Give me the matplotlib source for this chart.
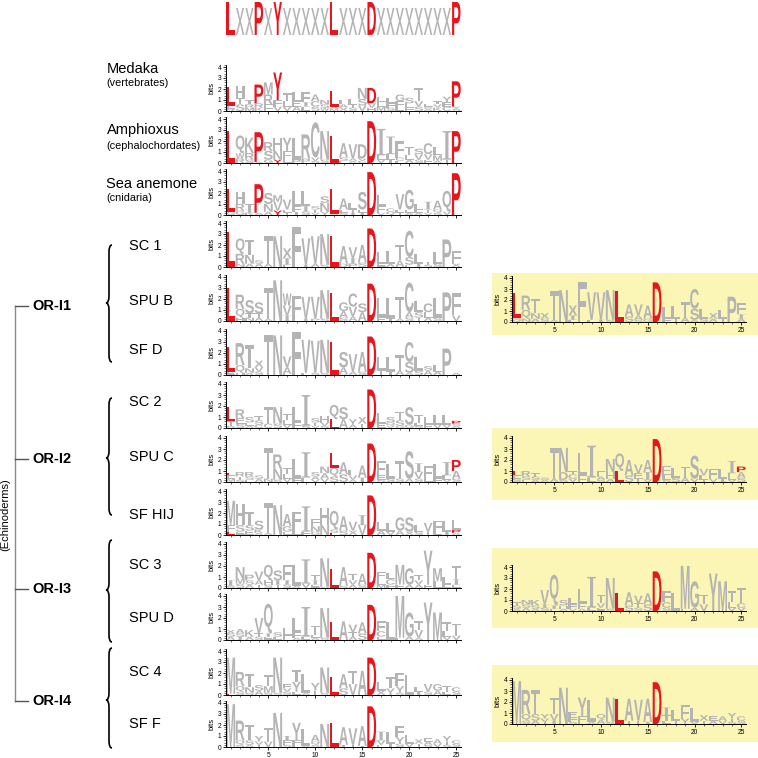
import matplotlib
matplotlib.use('Agg')
import matplotlib.pyplot as plt
from matplotlib.textpath import TextPath
from matplotlib.font_manager import FontProperties
from matplotlib.patches import PathPatch, Rectangle
from matplotlib.transforms import Affine2D
from matplotlib.path import Path
from matplotlib.ticker import MultipleLocator, FixedLocator

plt.rcParams['font.family'] = ['Liberation Sans', 'DejaVu Sans']

# ---------------- data ----------------
CONS = "LxxPxYxxxxxLxxxDxxxxxxxxP"
cons_h = [1.0, .82, .82, 1.0, .82, 1.0, .82, .82, .82, .82, .82, 1.0, .82, .82, .82, 1.0,
          .82, .82, .82, .82, .82, .82, .82, .82, 1.0]

medaka_letters = ["LHTPMYTLFANLLLNDLLGSTLTYP", "ETRRRFLEICSAATSVLFFLVSVEY", "RSMKFVVALSWMXSVHMSLFSAKCS"]
medaka_heights = [[1.7, 1.1, 0.4, 1.7, 1.1, 2.5, 0.7, 0.8, 0.9, 0.6, 0.4, 1.4, 0.4, 0.5, 1.0, 1.4, 0.5, 0.5, 0.6, 0.5, 1.2, 0.2, 0.3, 0.5, 2.3],
                  [0.3, 0.6, 0.3, 0.4, 0.9, 0.6, 0.5, 0.5, 0.4, 0.5, 0.3, 0.2, 0.3, 0.3, 0.6, 0.4, 0.4, 0.4, 0.5, 0.4, 0.5, 0.2, 0.3, 0.4, 0.2],
                  [0.2, 0.6, 0.3, 0.3, 0.6, 0.4, 0.4, 0.4, 0.4, 0.4, 0.3, 0.2, 0.3, 0.3, 0.5, 0.3, 0.4, 0.3, 0.4, 0.3, 0.4, 0.2, 0.3, 0.4, 0.2]]

amphioxus_letters = ["LQKPRHYLRCNLAVDDIIFTSCLIP", ".WR.SNFPPVS.SAV.LLCLVVMT.", ".RSAGYL..S..EXC.VTLASFA.."]
amphioxus_heights = [[2.9, 1.6, 1.4, 2.7, 0.8, 1.2, 1.2, 2.0, 2.2, 3.2, 2.6, 2.5, 1.3, 1.3, 1.3, 3.8, 2.4, 1.6, 1.5, 0.8, 0.5, 1.0, 0.8, 2.6, 2.9],
                     [0, 0.5, 0.6, 0, 0.8, 0.8, 0.8, 0.3, 0.4, 0.3, 0.3, 0, 0.3, 0.2, 0.2, 0, 0.4, 0.5, 0.3, 0.4, 0.5, 0.5, 0.5, 0.3, 0],
                     [0, 0.4, 0.3, 0.1, 0.3, 0.3, 0.3, 0, 0, 0.2, 0, 0, 0.2, 0.2, 0.2, 0, 0.3, 0.3, 0.2, 0.3, 0.3, 0.3, 0.2, 0, 0]]

anemone_letters = ["LHTPSMVLLSSLALSDLCVGLIAQP", "GRI.NVLFITN.LTL.FQLLLTQV.", ".GKAAYTTSVYSSII.V.TAAVS.."]
anemone_heights = [[2.1, 1.1, 0.5, 2.6, 1.0, 0.6, 0.9, 1.4, 1.4, 0.3, 0.6, 2.3, 1.0, 0.6, 1.6, 3.9, 1.0, 0.3, 1.4, 1.8, 0.5, 0.7, 0.8, 1.9, 3.8],
                   [0.3, 0.6, 0.3, 0, 0.7, 0.8, 0.3, 0.5, 0.5, 0.3, 0.8, 0, 0.3, 0.3, 0.3, 0, 0.6, 0.3, 0.3, 0.3, 0.3, 0.3, 0.3, 0.3, 0],
                   [0, 0.4, 0.2, 0.2, 0.3, 0.4, 0.2, 0.3, 0.3, 0.2, 0.3, 0.1, 0.2, 0.2, 0.2, 0, 0.2, 0, 0.2, 0.2, 0.2, 0.2, 0.2, 0, 0]]

sc1_letters = ["LQTSTNXFVVNLAVADLLTCLTLPF", ".RNAA.I.IAS.DIS.EAASISS.X", ".NA...L......P.....L....."]
sc1_heights = [[3.2, 1.4, 1.4, 0.3, 2.5, 2.8, 0.9, 3.6, 2.4, 2.5, 2.8, 2.8, 1.6, 1.0, 1.6, 3.5, 1.1, 1.2, 1.4, 2.4, 0.9, 0.3, 1.1, 2.5, 1.2],
               [0, 0.9, 0.8, 0.3, 0.3, 0, 0.6, 0, 0.2, 0.3, 0.2, 0, 0.3, 0.5, 0.4, 0, 0.3, 0.3, 0.6, 0.7, 0.3, 0.2, 0.3, 0, 0.3],
               [0, 0.3, 0.3, 0, 0, 0, 0.2, 0, 0, 0, 0, 0, 0, 0.3, 0, 0, 0, 0, 0, 0.2, 0, 0, 0, 0, 0]]

spub_letters = ["LRSSTNWFVVNLGCSDLLTCLCLPF", ".QTT..VLIPS.AVA.FTAASLS.V", ".HNAA.I.....SA.....STA..."]
spub_heights = [[3.0, 1.3, 1.2, 1.0, 2.8, 3.7, 1.1, 2.1, 2.0, 2.0, 2.6, 2.5, 0.8, 1.2, 0.8, 3.4, 1.8, 1.9, 2.0, 2.7, 1.0, 0.8, 1.8, 2.6, 2.0],
                [0, 0.8, 0.4, 0.4, 0, 0, 0.9, 0.2, 0.2, 0.2, 0.2, 0, 0.6, 0.9, 0.8, 0, 0.3, 0.2, 0.2, 0.5, 0.5, 0.5, 0.3, 0, 0.5],
                [0, 0.3, 0.3, 0.3, 0.2, 0, 0.5, 0, 0, 0, 0, 0, 0.3, 0.4, 0, 0, 0, 0, 0, 0.3, 0.3, 0.3, 0, 0, 0]]

sfd_letters = ["LRTXTNVFVVNLSVADLLTCLSLPA", "EQNV..A.LSS.AAS.TTASSAA..", ".HAS..L.....G......A....."]
sfd_heights = [[2.2, 2.0, 2.1, 0.6, 3.6, 3.6, 1.0, 3.9, 3.0, 2.9, 3.0, 3.0, 1.4, 1.6, 1.8, 3.5, 1.2, 1.3, 1.4, 1.8, 1.2, 0.4, 0.6, 2.4, 0.2],
               [0.3, 0.7, 0.4, 0.4, 0, 0, 0.6, 0, 0.2, 0.2, 0.2, 0, 0.6, 0.3, 0.3, 0, 0.4, 0.3, 0.4, 1.0, 0.4, 0.4, 0.3, 0, 0],
               [0, 0.2, 0.2, 0.3, 0, 0, 0.1, 0, 0, 0, 0, 0, 0.1, 0, 0, 0, 0, 0, 0, 0.2, 0, 0, 0, 0, 0]]

sc2_letters = ["LRSTTNTLISHQSYXDLSTSTLLLP", "TEESCSLF.TVLAAT.EQSGLFVVS", "SSAC..V.SVS......VG.S...A"]
sc2_heights = [[1.3, 0.8, 0.5, 0.4, 1.5, 1.5, 0.6, 1.4, 2.8, 0.4, 0.6, 1.3, 1.1, 0.5, 0.6, 3.5, 1.0, 0.5, 0.8, 1.6, 0.7, 0.7, 0.9, 0.9, 0.25],
               [0.4, 0.5, 0.3, 0.4, 0.4, 0.4, 0.4, 0.5, 0, 0.3, 0.3, 0.8, 0.8, 0.3, 0.4, 0, 0.4, 0.3, 0.5, 0.3, 0.3, 0.3, 0.3, 0.3, 0.2],
               [0.2, 0.4, 0.2, 0.3, 0, 0, 0.3, 0, 0.2, 0.2, 0.2, 0, 0, 0, 0, 0, 0, 0.2, 0.2, 0, 0.2, 0, 0, 0, 0.2]]

spuc_letters = ["LRRSTRTLISNLALADFLTSIFLIP", "ETSANNLFFAAQSVI.ESSAVLFLA", "MSE..SV..VVS.A..S...S..VS"]
spuc_heights = [[0.2, 0.4, 0.4, 0.3, 2.8, 1.3, 0.6, 1.8, 2.3, 0.4, 0.6, 1.3, 1.1, 0.5, 1.1, 3.5, 1.3, 1.3, 1.6, 2.5, 0.8, 1.2, 1.3, 1.2, 1.0],
                [0.3, 0.3, 0.3, 0.3, 0.3, 1.0, 0.4, 0.3, 0.4, 0.3, 0.5, 0.8, 0.7, 0.4, 0.4, 0, 0.4, 0.3, 0.3, 0.3, 0.6, 0.3, 0.3, 0.4, 0.7],
                [0.3, 0.2, 0.2, 0, 0, 0.2, 0.3, 0, 0, 0.2, 0.3, 0.5, 0, 0.2, 0, 0, 0.2, 0, 0, 0, 0.3, 0, 0, 0.2, 0.3]]

sfhij_letters = ["MHTSTNAFIFHQAVIDLLGSLVFLL", "FSSKA.GLFNNSSXV.AVAXSTLIP", "LEEA..L..G.L............A"]
sfhij_heights = [[2.2, 1.9, 1.2, 0.8, 2.7, 2.7, 1.1, 1.4, 2.3, 0.7, 1.6, 1.7, 1.3, 0.8, 0.9, 3.6, 0.8, 0.8, 1.2, 1.3, 0.6, 0.8, 1.0, 1.0, 0.9],
                 [0.6, 0.6, 0.5, 0.3, 0.2, 0, 0.5, 0.7, 0.3, 0.5, 0.9, 0.3, 0.4, 0.4, 0.9, 0, 0.4, 0.3, 0.4, 0.3, 0.3, 0.3, 0.3, 0.3, 0.25],
                 [0.3, 0.3, 0.4, 0.2, 0, 0, 0.3, 0, 0, 0.3, 0, 0.2, 0, 0, 0, 0, 0, 0, 0, 0, 0, 0, 0, 0, 0.2]]

sc3_letters = ["INPVQSFLITNLATADFLMGTYMLT", "SMSAHII.VIS.SVS.LCFAVFLLI", ".SATSTSA.E...A..MF..A...L"]
sc3_heights = [[0.5, 1.0, 0.5, 0.8, 1.4, 0.9, 1.4, 1.9, 2.2, 0.5, 2.6, 1.7, 1.7, 0.6, 1.0, 3.2, 0.7, 0.6, 1.8, 1.5, 0.5, 3.1, 1.2, 0.7, 1.2],
               [0.2, 0.5, 0.4, 0.4, 0.4, 0.4, 0.4, 0, 0.4, 0.4, 0.1, 0, 0.2, 0.4, 0.3, 0, 0.5, 0.5, 0.3, 0.3, 0.4, 0.3, 0.6, 0.3, 0.5],
               [0, 0.4, 0.3, 0.3, 0.3, 0.3, 0.3, 0.2, 0, 0.3, 0, 0, 0, 0.3, 0, 0, 0.3, 0.3, 0, 0, 0.3, 0, 0, 0, 0.3]]

spud_letters = ["XAKVQSLLITNLAVADFLMGTYMTT", "SSATILFFLLS..TS.C.FAV..LV", "AI.SE..A.A...A..L...A..V."]
spud_heights = [[0.3, 0.4, 0.6, 1.4, 2.7, 0.4, 0.7, 1.3, 2.7, 0.8, 2.7, 1.6, 1.7, 0.7, 1.0, 3.2, 0.9, 1.6, 3.8, 2.2, 0.8, 3.4, 2.5, 0.8, 1.1],
                [0.3, 0.3, 0.3, 0.3, 0.3, 0.3, 0.4, 0.5, 0.3, 0.3, 0.2, 0, 0, 0.4, 0.6, 0, 0.5, 0, 0.2, 0.3, 0.7, 0, 0, 0.5, 0.4],
                [0.3, 0.3, 0, 0.3, 0.3, 0, 0, 0.2, 0, 0.2, 0, 0, 0, 0.3, 0, 0, 0.3, 0, 0, 0, 0.2, 0, 0, 0.3, 0]]

sc4_letters = ["MRTSTNETLYNLATADLTFLLVGTC", ".QNAMSVYATS.SV..XYY.ISALS", "LSS.S.SL..........S......"]
sc4_heights = [[3.3, 1.3, 1.2, 0.5, 1.0, 3.2, 0.4, 1.1, 1.7, 0.7, 2.3, 1.6, 1.3, 1.2, 2.2, 3.4, 0.8, 1.0, 1.2, 1.8, 0.4, 0.7, 0.6, 0.5, 0.4],
               [0, 0.5, 0.5, 0.4, 0.6, 0.2, 0.3, 0.9, 0.2, 0.4, 0.2, 0, 0.6, 1.0, 0, 0, 0.4, 0.6, 0.6, 0, 0.3, 0.3, 0.4, 0.3, 0.3],
               [0.1, 0.3, 0.2, 0, 0.2, 0, 0.3, 0.3, 0, 0, 0, 0, 0, 0, 0, 0, 0, 0, 0.2, 0, 0, 0, 0, 0, 0]]

sff_letters = ["MRTYTNIYLANLAVADILFLXEAYC", ".QSVV.FFAQ..TTI.VTYVTAVTS", ".SAT..SL.S......L.S..S.S."]
sff_heights = [[3.9, 1.8, 1.4, 0.5, 1.2, 3.1, 0.4, 1.6, 1.5, 0.6, 2.1, 2.2, 1.6, 1.5, 1.8, 3.7, 0.8, 1.1, 1.0, 0.8, 0.4, 0.3, 0.4, 0.5, 0.3],
               [0, 0.4, 0.4, 0.3, 0.5, 0, 0.4, 0.4, 0.1, 0.3, 0, 0, 0.2, 0.2, 0.1, 0, 0.4, 0.3, 0.6, 0.3, 0.3, 0.3, 0.3, 0.3, 0.3],
               [0, 0.2, 0.2, 0.2, 0, 0, 0.2, 0.2, 0, 0.2, 0, 0, 0, 0, 0, 0, 0.2, 0, 0.3, 0, 0, 0.2, 0, 0.2, 0]]

yel1_letters = ["LRTXTNXFVVNLAVADLLTCLXLPF", "SQNSA.I.LIS.SAG.FTASSAT.I", "QNA...L......S.....A....A"]
yel1_heights = [[2.2, 1.3, 1.3, 0.5, 2.6, 2.9, 0.9, 3.6, 2.5, 2.5, 2.7, 2.8, 1.1, 1.0, 1.2, 3.6, 1.1, 1.2, 1.4, 1.8, 0.9, 0.5, 0.8, 2.3, 1.0],
                [0.2, 0.8, 0.5, 0.3, 0.2, 0, 0.4, 0, 0.2, 0.2, 0.2, 0, 0.5, 0.4, 0.3, 0, 0.3, 0.3, 0.4, 1.0, 0.3, 0.3, 0.3, 0, 0.4],
                [0.2, 0.3, 0.3, 0, 0, 0, 0.2, 0, 0, 0, 0, 0, 0, 0.2, 0, 0, 0, 0, 0, 0.2, 0, 0, 0, 0, 0.3]]

yel2_letters = ["LRTSTNTLIFNQAVADELTSVFLIP", "ESSAADCFLAHLSEI.LSAVLVILA", "SEA..SV..SA..TV.S...T..VS"]
yel2_heights = [[0.4, 0.5, 0.3, 0.2, 2.8, 2.2, 0.3, 2.0, 2.9, 0.5, 1.2, 1.6, 1.4, 0.8, 1.1, 3.9, 0.9, 0.9, 1.0, 2.1, 0.6, 0.9, 0.9, 1.1, 0.5],
                [0.3, 0.3, 0.3, 0.2, 0.3, 0.7, 0.4, 0.6, 0.4, 0.3, 0.6, 1.0, 0.6, 0.5, 0.7, 0, 0.4, 0.4, 0.4, 0.3, 0.4, 0.3, 0.3, 0.6, 0.5],
                [0.3, 0.2, 0.2, 0, 0, 0.2, 0.3, 0, 0, 0.2, 0.3, 0, 0, 0.3, 0.2, 0, 0.2, 0, 0, 0, 0.2, 0, 0, 0.2, 0.4]]

yel3_letters = ["TNKVQSLLITNLAVADFLMGTYMTT", "SSSIIHFFLVS.STS.C.FAV..LC", "AAASEAVA.E...S..S......VV"]
yel3_heights = [[0.3, 0.4, 0.5, 1.3, 2.8, 0.5, 0.6, 1.3, 2.8, 0.8, 2.8, 1.6, 1.2, 0.7, 1.0, 3.6, 1.0, 1.6, 3.9, 2.4, 0.9, 3.4, 2.7, 1.0, 1.4],
                [0.3, 0.3, 0.3, 0.3, 0.3, 0.3, 0.4, 0.5, 0.3, 0.4, 0.2, 0, 0.5, 0.4, 0.6, 0, 0.5, 0, 0.2, 0.3, 0.6, 0, 0, 0.5, 0.4],
                [0.2, 0.3, 0.2, 0.3, 0.2, 0.2, 0.2, 0.2, 0, 0.3, 0, 0, 0, 0.3, 0, 0, 0.3, 0, 0, 0, 0, 0, 0, 0.3, 0.3]]

yel4_letters = ["MRTYTNEYLQNLAVADILFLXEAYC", ".QSVV.FFAAS.TTI.TTYVTAVTS", ".SATI.SL........L......S."]
yel4_heights = [[3.9, 2.2, 2.2, 0.4, 1.5, 3.3, 0.5, 1.7, 2.0, 0.5, 2.2, 2.3, 2.0, 1.9, 2.1, 3.8, 0.7, 1.0, 1.2, 1.3, 0.5, 0.4, 0.4, 0.5, 0.4],
                [0, 0.6, 0.6, 0.3, 0.6, 0, 0.4, 0.5, 0.2, 0.4, 0.2, 0, 0.3, 0.3, 0.2, 0, 0.5, 0.3, 0.5, 0.2, 0.3, 0.3, 0.3, 0.3, 0.3],
                [0, 0.3, 0.3, 0.2, 0.3, 0, 0.2, 0.2, 0, 0, 0, 0, 0, 0, 0, 0, 0.3, 0, 0, 0, 0, 0, 0, 0.2, 0]]

# ---------------- styling / layout ----------------
W = H = 758
RED = '#e8161c'
GRAY = '#b4b4b4'
YELLOW = '#fbf5b6'
PXBIT = 11.0
YMAX = 4.2

fig = plt.figure(figsize=(7.58, 7.58), dpi=100)

FP_SANS = FontProperties(family='Liberation Sans', weight='bold')
FP_SANS_REG = FontProperties(family='Liberation Sans', weight='normal')
FP_SERIF = FontProperties(family='Liberation Serif', weight='normal')
_glyphs = {}


def glyph(ch):
    if ch not in _glyphs:
        if ch == 'I':
            fp = FP_SERIF
        elif ch == 'x':
            fp = FP_SANS_REG
        else:
            fp = FP_SANS
        tp = TextPath((0, 0), ch, size=1, prop=fp)
        _glyphs[ch] = (tp, tp.get_extents())
    return _glyphs[ch]


def draw_letter(ax, ch, xc, y0, h, color, w=0.94):
    tp, bb = glyph(ch)
    tr = (Affine2D().translate(-bb.x0, -bb.y0)
          .scale(w / bb.width, h / bb.height)
          .translate(xc - w / 2, y0))
    ax.add_patch(PathPatch(tr.transform_path(tp), fc=color, ec='none', lw=0))


def fbox(x0, ytop, x1, ybot):
    return [x0 / W, 1 - ybot / H, (x1 - x0) / W, (ybot - ytop) / H]


def logo_axes(xl, xr, base, xlabels=False):
    ax = fig.add_axes(fbox(xl, base - YMAX * PXBIT, xr, base))
    ax.set_xlim(0.5, 25.5)
    ax.set_ylim(0, YMAX)
    ax.patch.set_alpha(0)
    for s in ('top', 'right'):
        ax.spines[s].set_visible(False)
    for s in ('left', 'bottom'):
        ax.spines[s].set_linewidth(0.7)
    ax.yaxis.set_major_locator(FixedLocator([0, 1, 2, 3, 4]))
    ax.yaxis.set_minor_locator(MultipleLocator(0.2))
    ax.xaxis.set_major_locator(MultipleLocator(5))
    ax.xaxis.set_minor_locator(MultipleLocator(1))
    ax.tick_params(which='major', length=2.5, width=0.6, labelsize=4.8, pad=1)
    ax.tick_params(which='minor', length=1.3, width=0.4)
    if not xlabels:
        ax.tick_params(axis='x', labelbottom=False)
    ax.set_ylabel('bits', fontsize=5.5, labelpad=1)
    return ax


def draw_logo(ax, letters, heights):
    top, mid, low = letters
    ht, hm, hl = heights
    for i in range(25):
        y = 0.0
        for ch, h in ((low[i], hl[i]), (mid[i], hm[i]), (top[i], ht[i])):
            if ch != '.' and h > 0:
                color = RED if ch == CONS[i] else GRAY
                draw_letter(ax, ch, i + 1, y, h, color)
                y += h


# background overlay axes in pixel coordinates
ax0 = fig.add_axes([0, 0, 1, 1])
ax0.set_xlim(0, W)
ax0.set_ylim(H, 0)
ax0.axis('off')

# yellow boxes
yellow_boxes = [(273, 335), (428, 500), (548, 628), (665, 742)]
for y0, y1 in yellow_boxes:
    ax0.add_patch(Rectangle((492, y0), 266, y1 - y0, fc=YELLOW, ec='none'))

# consensus
axc = fig.add_axes(fbox(226, 2, 461, 35))
axc.set_xlim(0.5, 25.5)
axc.set_ylim(0, 1)
axc.axis('off')
for i, ch in enumerate(CONS):
    draw_letter(axc, ch, i + 1, 0, cons_h[i], GRAY if ch == 'x' else RED, w=0.9)

# main column
main_panels = [
    (medaka_letters, medaka_heights, 111),
    (amphioxus_letters, amphioxus_heights, 163),
    (anemone_letters, anemone_heights, 215),
    (sc1_letters, sc1_heights, 267),
    (spub_letters, spub_heights, 321),
    (sfd_letters, sfd_heights, 375),
    (sc2_letters, sc2_heights, 428),
    (spuc_letters, spuc_heights, 482),
    (sfhij_letters, sfhij_heights, 535),
    (sc3_letters, sc3_heights, 588),
    (spud_letters, spud_heights, 640),
    (sc4_letters, sc4_heights, 695),
    (sff_letters, sff_heights, 747),
]
for k, (lt, hh, base) in enumerate(main_panels):
    ax = logo_axes(226, 461, base, xlabels=(k == len(main_panels) - 1))
    draw_logo(ax, lt, hh)

# yellow column
yel_panels = [
    (yel1_letters, yel1_heights, 322),
    (yel2_letters, yel2_heights, 482),
    (yel3_letters, yel3_heights, 611),
    (yel4_letters, yel4_heights, 724),
]
for lt, hh, base in yel_panels:
    ax = logo_axes(512, 746, base, xlabels=True)
    draw_logo(ax, lt, hh)

# species labels
ax0.text(107, 73, 'Medaka', fontsize=10.5, va='baseline')
ax0.text(106, 86, '(vertebrates)', fontsize=7.8, va='baseline')
ax0.text(107, 134, 'Amphioxus', fontsize=10.5, va='baseline')
ax0.text(106, 149, '(cephalochordates)', fontsize=7.8, va='baseline')
ax0.text(106, 188, 'Sea anemone', fontsize=10.5, va='baseline')
ax0.text(106, 201, '(cnidaria)', fontsize=7.8, va='baseline')

group_labels = ['SC 1', 'SPU B', 'SF D', 'SC 2', 'SPU C', 'SF HIJ', 'SC 3', 'SPU D', 'SC 4', 'SF F']
group_label_y = [246, 301, 350, 402, 457, 515, 565, 618, 672, 724]
for lab, yy in zip(group_labels, group_label_y):
    ax0.text(129, yy, lab, fontsize=10.5, va='center')


# braces
def brace(ax, x, y0, y1, ym, w=6.0, r=7.0):
    verts = [(x + w / 2, y0), (x, y0), (x, y0 + r),
             (x, ym - r), (x, ym), (x - w / 2, ym),
             (x, ym), (x, ym + r),
             (x, y1 - r), (x, y1), (x + w / 2, y1)]
    codes = [Path.MOVETO, Path.CURVE3, Path.CURVE3,
             Path.LINETO, Path.CURVE3, Path.CURVE3,
             Path.CURVE3, Path.CURVE3,
             Path.LINETO, Path.CURVE3, Path.CURVE3]
    ax.add_patch(PathPatch(Path(verts, codes), fc='none', ec='black', lw=1.2))


for y0, y1, ym in [(245, 362, 303), (398, 515, 458), (540, 642, 590), (648, 748, 700)]:
    brace(ax0, 109, y0, y1, ym)

# tree
or_labels = ['OR-I1', 'OR-I2', 'OR-I3', 'OR-I4']
or_y = [306, 459, 589, 701]
ax0.plot([15, 15], [or_y[0], or_y[-1]], color='#8a8a8a', lw=1.0)
for lab, yy in zip(or_labels, or_y):
    ax0.plot([15, 28], [yy, yy], color='#555555', lw=1.0)
    ax0.text(32, yy, lab, fontsize=10.5, fontweight='bold', va='center')
ax0.text(5, 515, '(Echinoderms)', fontsize=8, rotation=90, va='center', ha='center')

fig.savefig('out.png', dpi=100)
